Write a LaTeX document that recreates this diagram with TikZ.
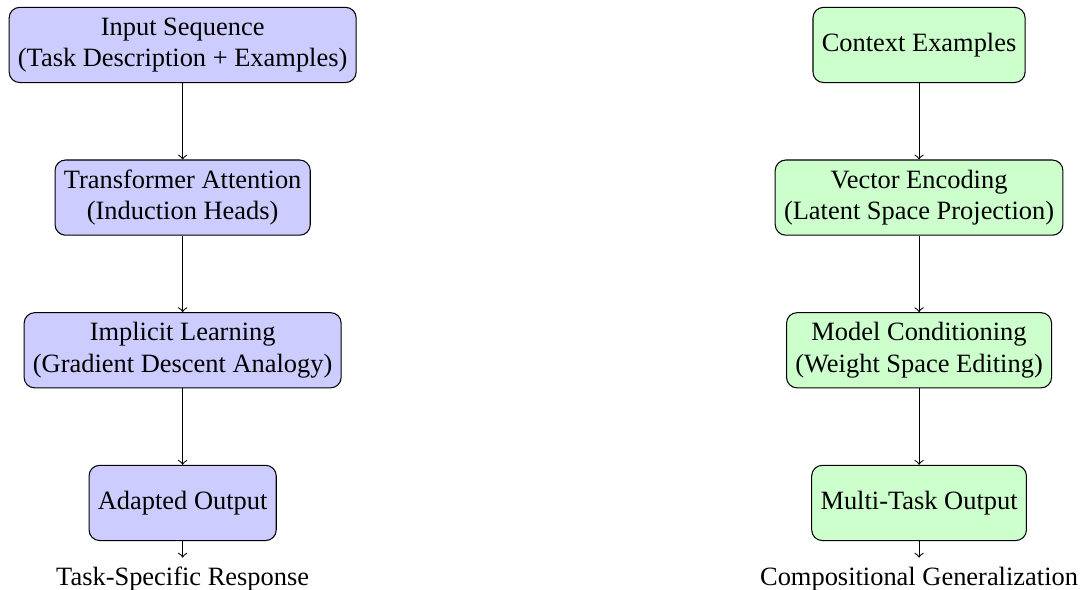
\documentclass[tikz,border=0pt]{standalone}
\usepackage{fontspec}
\setmainfont{Liberation Serif}
\usetikzlibrary{positioning}
\tikzset{
  box/.style={draw, rounded corners, minimum height=1cm, align=center, inner sep=3.33pt},
  bluebox/.style={box, fill=blue!20},
  greenbox/.style={box, fill=green!20},
  flow/.style={->},
  endlabel/.style={inner sep=3.33pt}
}
\begin{document}
\begin{tikzpicture}[node distance=1cm+0.45pt]
\useasboundingbox (0,0) rectangle (410.1pt,-223.2pt);
% left column
\node[bluebox] (l1) at (69.1pt,-17.0pt) {Input Sequence\\(Task Description + Examples)};
\node[bluebox, below=of l1] (l2) {Transformer Attention\\(Induction Heads)};
\node[bluebox, below=of l2] (l3) {Implicit Learning\\(Gradient Descent Analogy)};
\node[bluebox, below=of l3] (l4) {Adapted Output};
\node[endlabel, below=0.22cm of l4] (l5) {Task-Specific Response};
\draw[flow] (l1) -- (l2);
\draw[flow] (l2) -- (l3);
\draw[flow] (l3) -- (l4);
\draw[flow] (l4) -- (l5);
% right column
\node[greenbox] (r1) at (347.7pt,-17.0pt) {Context Examples};
\node[greenbox, below=of r1] (r2) {Vector Encoding\\(Latent Space Projection)};
\node[greenbox, below=of r2] (r3) {Model Conditioning\\(Weight Space Editing)};
\node[greenbox, below=of r3] (r4) {Multi-Task Output};
\node[endlabel, below=0.22cm of r4] (r5) {Compositional Generalization};
\draw[flow] (r1) -- (r2);
\draw[flow] (r2) -- (r3);
\draw[flow] (r3) -- (r4);
\draw[flow] (r4) -- (r5);
\end{tikzpicture}
\end{document}
